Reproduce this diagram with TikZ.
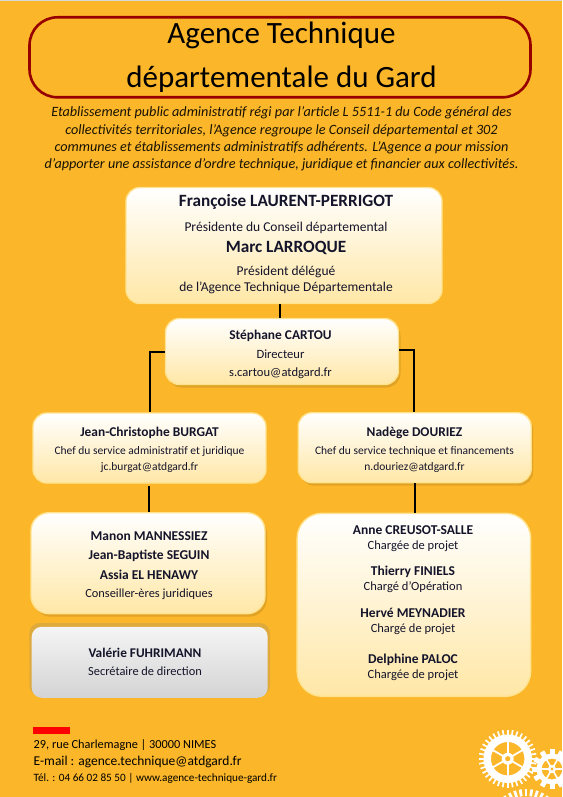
\documentclass[tikz,border=0pt]{standalone}
\usepackage{fontspec}
\setmainfont{Carlito}
\usetikzlibrary{shadows}
\definecolor{Fond}{HTML}{FBB62A}
\definecolor{Cadre}{HTML}{960000}
\definecolor{Bord}{HTML}{FFE38F}
\definecolor{Creme}{HTML}{FFE7A6}
\definecolor{Encre}{HTML}{14142A}
\definecolor{Rouge}{HTML}{FF0000}
\newcommand{\fsize}[2]{\fontsize{#1}{#2}\selectfont}
\newcommand{\nom}[2]{{\fsize{#1}{16}\bfseries #2}}
\tikzset{
  orgbox/.style={rectangle,rounded corners=14,draw=Bord,line width=1.4,top color=white,bottom color=Creme,inner sep=0},
  orgtext/.style={text=Encre,align=center,inner sep=0,font=\fsize{12.4}{16}},
  softshadow/.style={drop shadow={shadow xshift=2,shadow yshift=3,fill=black,opacity=.1}},
  greybox/.style={orgbox,draw=none,top color=white!96!black,bottom color=white!83!black,rounded corners=10,
    drop shadow={shadow xshift=0,shadow yshift=-3,shadow scale=1.02,fill=gray,opacity=.22}},
  link/.style={line width=1.9,black},
  gearpart/.style={white,line cap=butt}
}
\begin{document}
\begin{tikzpicture}[x=1pt,y=-1pt]
  \useasboundingbox (0,0) rectangle (562,797);
  \fill[Fond] (0,0) rectangle (562,797);
  \fill[white!85!black] (0,0) rectangle (562,1.2);
  % en-tete
  \node[rectangle,rounded corners=28,draw=Cadre,line width=2.6,minimum width=501,minimum height=80,inner sep=0] (cadre) at (280,57.3) {};
  \node[align=center,inner sep=0,font=\fsize{31}{44}] (titre) at (281.5,57) {Agence Technique\\départementale du Gard};
  \node[align=center,inner sep=0,font=\fsize{14.2}{17.4}\itshape,text=black!90!Fond] (intro) at (281.5,139)
    {Etablissement public administratif régi par l’article L 5511-1 du Code général des\\
     collectivités territoriales, l’Agence regroupe le Conseil départemental et 302\\
     communes et établissements administratifs adhérents. L’Agence a pour mission\\
     d’apporter une assistance d’ordre technique, juridique et financier aux collectivités.};
  % organigramme
  \node[orgbox,minimum width=316,minimum height=116] (presid) at (284,245.5) {};
  \node[orgtext,font=\fsize{13.5}{16}] (presidtxt) at (286,244.5)
    {\nom{17.2}{Françoise LAURENT-PERRIGOT}\\[9pt]Présidente du Conseil départemental\\[5pt]
     \nom{17.2}{Marc LARROQUE}\\[7pt]Président délégué\\de l'Agence Technique Départementale};
  \node[orgbox,softshadow,minimum width=233,minimum height=66] (direct) at (282,351.5) {};
  \node[orgtext,font=\fsize{12.6}{16}] (directtxt) at (280.5,354)
    {\nom{13.4}{Stéphane CARTOU}\\[3pt]Directeur\\[2pt]s.cartou@atdgard.fr};
  \node[orgbox,minimum width=233,minimum height=70] (burgat) at (149.5,448) {};
  \node[orgtext,font=\fsize{11.5}{16}] (burgattxt) at (149.5,449.5)
    {\nom{13.4}{Jean-Christophe BURGAT}\\[2pt]Chef du service administratif et juridique\\jc.burgat@atdgard.fr};
  \node[orgbox,softshadow,minimum width=233,minimum height=70] (douriez) at (414.7,447.7) {};
  \node[orgtext,font=\fsize{11.5}{16}] (douriestxt) at (414.5,449.5)
    {\nom{13.4}{Nadège DOURIEZ}\\[2pt]Chef du service technique et financements\\n.douriez@atdgard.fr};
  \node[orgbox,softshadow,minimum width=234,minimum height=101,rounded corners=18] (juris) at (148,563.2) {};
  \node[orgtext] (juristxt) at (149,566)
    {\nom{13.5}{Manon MANNESSIEZ}\\[3pt]\nom{13.5}{Jean-Baptiste SEGUIN}\\[4pt]\nom{13.5}{Assia EL HENAWY}\\[2pt]Conseiller-ères juridiques};
  \node[greybox,minimum width=236,minimum height=71] (secret) at (149.7,662.3) {};
  \node[orgtext] (secrettxt) at (145,662)
    {\nom{13.3}{Valérie FUHRIMANN}\\[2pt]Secrétaire de direction};
  \node[orgbox,minimum width=233.5,minimum height=183,rounded corners=25] (projets) at (413.9,604.8) {};
  \node[orgtext,font=\fsize{12.5}{16}] (projetstxt) at (413,603)
    {\nom{13.5}{Anne CREUSOT-SALLE}\\[-1pt]Chargée de projet\\[10pt]
     \nom{13.5}{Thierry FINIELS}\\[-1pt]Chargé d'Opération\\[11pt]
     \nom{13.5}{Hervé MEYNADIER}\\[-1pt]Chargé de projet\\[15pt]
     \nom{13.5}{Delphine PALOC}\\[-1pt]Chargée de projet};
  \coordinate (coudeg) at (150,351.7);
  \coordinate (couded) at (414,350.3);
  \coordinate (sousburgat) at (149,486);
  \draw[link] (presid.south-|280,0) -- (direct.north-|280,0);
  \draw[link] (direct.west|-coudeg) -- (coudeg) -- (coudeg|-burgat.north);
  \draw[link] (direct.east|-couded) -- (couded) -- (couded|-douriez.north);
  \draw[link] (sousburgat) -- (sousburgat|-juris.north);
  \draw[link] (douriez.south-|415,0) -- (projets.north-|415,0);
  % pied de page
  \fill[Rouge] (33,727) rectangle (70,734);
  \node[anchor=west,inner sep=0,font=\fsize{12.3}{14},text=black] (adresse) at (33.5,745) {29, rue Charlemagne | 30000 NIMES};
  \node[anchor=west,inner sep=0,font=\fsize{13.5}{14},text=black] (courriel) at (33.5,761.5) {E-mail : agence.technique@atdgard.fr};
  \node[anchor=west,inner sep=0,font=\fsize{11.2}{14},text=black] (contact) at (33.5,778) {Tél. : 04 66 02 85 50 | www.agence-technique-gard.fr};
  % engrenages
  \begin{scope}
    \clip (0,0) rectangle (562,797);
    \begin{scope}[shift={(507.7,758.7)}]
      \foreach \a in {0,10,...,350}{\draw[gearpart,line width=1.7] (\a:22) -- (\a:29);}
      \draw[gearpart,line width=7.5] (0,0) circle (20.5);
      \foreach \a in {30,90,...,330}{\draw[gearpart,line width=1.8] (0,0) -- (\a:18);}
      \fill[white] (0,0) circle (6);
      \fill[Fond] (0,0) circle (2.6);
    \end{scope}
    \begin{scope}[shift={(552,769)}]
      \foreach \a in {0,30,...,330}{\draw[gearpart,line width=5] (\a:14) -- (\a:20);}
      \draw[gearpart,line width=5] (0,0) circle (13);
      \foreach \a in {0,60,...,300}{\draw[gearpart,line width=1.6] (0,0) -- (\a:11);}
      \fill[white] (0,0) circle (4);
      \fill[Fond] (0,0) circle (1.6);
    \end{scope}
    \begin{scope}[shift={(526,826)}]
      \foreach \a in {0,9,...,351}{\draw[gearpart,line width=2.8] (\a:30) -- (\a:37);}
    \end{scope}
  \end{scope}
\end{tikzpicture}
\end{document}
